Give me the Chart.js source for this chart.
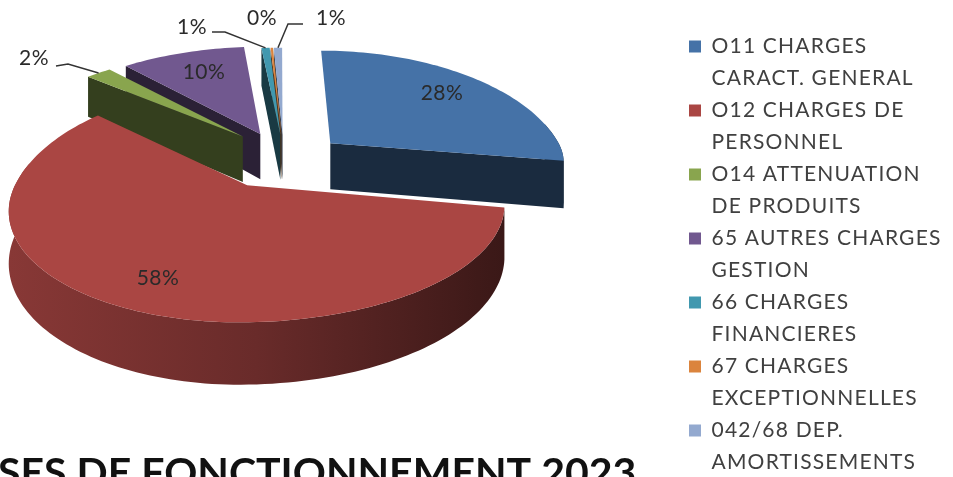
<!DOCTYPE html>
<html>
<head>
<meta charset="utf-8">
<title>Dépenses de fonctionnement 2023</title>
<script src="https://cdn.jsdelivr.net/npm/chart.js@4"></script>
<style>
  html, body { margin: 0; background: #fff; overflow: hidden; }
  canvas { display: block; filter: blur(0.6px); }
</style>
</head>
<body>
<canvas id="graphique" width="953" height="477"></canvas>
<script>
const categories = [
    ['O11 CHARGES', 'CARACT. GENERAL'],
    ['O12 CHARGES DE', 'PERSONNEL'],
    ['O14 ATTENUATION', 'DE PRODUITS'],
    ['65 AUTRES CHARGES', 'GESTION'],
    ['66 CHARGES', 'FINANCIERES'],
    ['67 CHARGES', 'EXCEPTIONNELLES'],
    ['042/68 DEP.', 'AMORTISSEMENTS']
];
const valeurs = [28, 58, 2, 10, 0.7, 0.2, 0.7];
const couleurs = ['#4572A7', '#AA4643', '#89A54E', '#71588F', '#4198AF', '#DB843D', '#93A9CF'];
const titre = 'SES DE FONCTIONNEMENT 2023';

// reglages de la vue 3D (pas des donnees)
const vue = { cx: 280, cy: 153, rx: 235, ry: 113, k: 0.218, prof: 47 };
const eclatement = [0.25, 0.3, 0.215, 0.19, 0.17, 0.17, 0.17];
// petite correction de chaque part: decalage et etirement (gauche, droite, arriere, avant)
const retouche = [
    { ex: 0.025, ey: 0.07, g: 1, d: 0.99, h: 1.04, b: 0.8 },
    { ex: 0, ey: 0, g: 0.93, d: 1.015, h: 0.96, b: 0.86 },
    { ex: -0.01, ey: 0, g: 1.05, d: 1, h: 0.98, b: 1 },
    { ex: -0.01, ey: 0, g: 1.05, d: 1.02, h: 1.01, b: 1 },
    { ex: 0.015, ey: 0, g: 1, d: 1, h: 1, b: 1 },
    { ex: 0.015, ey: 0, g: 1, d: 1, h: 1, b: 1 },
    { ex: 0.015, ey: 0, g: 1, d: 1, h: 1, b: 1 }
];
// place des etiquettes, avec le trait de rappel quand il y en a un
const etiquettes = [
    { x: 442, y: 93 },
    { x: 158, y: 278 },
    { x: 34, y: 58, trait: [[56, 66], [68, 64]] },
    { x: 204, y: 72 },
    { x: 192, y: 27, trait: [[212, 32], [225, 32]] },
    { x: 262, y: 18 },
    { x: 331, y: 18, trait: [[303, 24], [288, 24]] }
];

function projeter(X, Y, z) {
    const w = 1 - vue.k * Y;
    return [vue.cx + vue.rx * X / w, vue.cy + (vue.ry * Y + z * vue.prof) / w];
}

function assombrir(hex, f) {
    const n = parseInt(hex.slice(1), 16);
    const r = Math.round((n >> 16) * f), g = Math.round(((n >> 8) & 255) * f), b = Math.round((n & 255) * f);
    return `rgb(${r}, ${g}, ${b})`;
}

function remplir(ctx, pts, style) {
    ctx.beginPath();
    pts.forEach((p, i) => i ? ctx.lineTo(p[0], p[1]) : ctx.moveTo(p[0], p[1]));
    ctx.closePath();
    ctx.fillStyle = style;
    ctx.fill();
}

const camembert3d = {
    id: 'camembert3d',
    afterLayout(chart) {
        // la legende reste a sa place a droite
        const h = chart.legend.bottom - chart.legend.top;
        chart.legend.left = 689;
        chart.legend.right = 953;
        chart.legend.top = 36;
        chart.legend.bottom = 36 + h;
    },
    beforeDraw(chart) {
        chart.ctx.letterSpacing = '1.2px';
    },
    beforeDatasetsDraw(chart) {
        const ctx = chart.ctx;
        const arcs = chart.getDatasetMeta(0).data;
        const milieu = i => (arcs[i].startAngle + arcs[i].endAngle) / 2;
        const ordre = arcs.map((_, i) => i).sort((a, b) => Math.sin(milieu(a)) - Math.sin(milieu(b)));
        const total = valeurs.reduce((a, b) => a + b, 0);
        const decalage = i => [
            eclatement[i] * Math.cos(milieu(i)) + retouche[i].ex,
            eclatement[i] * Math.sin(milieu(i)) + retouche[i].ey
        ];
        const surBord = (i, a) => {
            const r = retouche[i];
            const [ox, oy] = decalage(i);
            const cx = Math.cos(a), sy = Math.sin(a);
            return [ox + (cx < 0 ? r.g : r.d) * cx, oy + (sy < 0 ? r.h : r.b) * sy];
        };

        ordre.forEach(i => {
            const arc = arcs[i];
            const [ox, oy] = decalage(i);
            const angles = [];
            const n = Math.max(4, Math.ceil((arc.endAngle - arc.startAngle) * 40));
            for (let j = 0; j <= n; j++) {
                angles.push(arc.startAngle + (arc.endAngle - arc.startAngle) * j / n);
            }
            const haut = angles.map(a => { const p = surBord(i, a); return projeter(p[0], p[1], 0); });
            const bas = angles.map(a => { const p = surBord(i, a); return projeter(p[0], p[1], 1); });
            const centreH = projeter(ox, oy, 0);
            const centreB = projeter(ox, oy, 1);
            const c = couleurs[i];

            // paroi exterieure, plus claire a gauche (l'arriere ne se voit pas)
            const devant = angles.map((a, j) => j).filter(j => Math.sin(angles[j]) > -0.2);
            if (devant.length > 1) {
                const xs = haut.map(p => p[0]);
                const deg = ctx.createLinearGradient(Math.min(...xs), 0, Math.max(...xs), 0);
                deg.addColorStop(0, assombrir(c, 0.8));
                deg.addColorStop(0.5, assombrir(c, 0.62));
                deg.addColorStop(1, assombrir(c, 0.34));
                remplir(ctx, devant.map(j => haut[j]).concat(devant.slice().reverse().map(j => bas[j])), deg);
            }

            // parois radiales, seulement celles tournees vers nous
            const sombre = assombrir(c, 0.38);
            if (Math.cos(arc.startAngle) < 0) {
                remplir(ctx, [centreH, haut[0], bas[0], centreB], sombre);
            }
            if (Math.cos(arc.endAngle) > 0) {
                remplir(ctx, [centreH, haut[n], bas[n], centreB], sombre);
            }

            // dessus
            remplir(ctx, [centreH].concat(haut), c);
        });

        // etiquettes
        ctx.letterSpacing = '0.5px';
        ctx.font = '21px Lato';
        ctx.fillStyle = '#2a2a2a';
        ctx.textAlign = 'center';
        ctx.textBaseline = 'middle';
        etiquettes.forEach((e, i) => {
            ctx.fillText(Math.round(valeurs[i] / total * 100) + '%', e.x, e.y);
            if (e.trait) {
                const fin = surBord(i, milieu(i));
                const p = projeter(fin[0], fin[1], 0);
                ctx.beginPath();
                ctx.moveTo(e.trait[0][0], e.trait[0][1]);
                ctx.lineTo(e.trait[1][0], e.trait[1][1]);
                ctx.lineTo(p[0], p[1]);
                ctx.strokeStyle = '#333';
                ctx.lineWidth = 1.5;
                ctx.stroke();
            }
        });

        // titre, coupe par le bas de l'image comme sur l'original
        ctx.letterSpacing = '0px';
        ctx.font = 'bold 41px Lato';
        ctx.fillStyle = '#111';
        ctx.textAlign = 'left';
        ctx.textBaseline = 'alphabetic';
        ctx.fillText(titre, -2, 487);
        return false;
    }
};

new Chart(document.getElementById('graphique'), {
    type: 'pie',
    data: {
        labels: categories,
        datasets: [{ data: valeurs, backgroundColor: couleurs, borderWidth: 0 }]
    },
    options: {
        responsive: false,
        animation: false,
        layout: { padding: { right: 12 } },
        plugins: {
            tooltip: { enabled: false },
            legend: {
                position: 'right',
                align: 'start',
                labels: {
                    boxWidth: 12,
                    boxHeight: 12,
                    padding: 0,
                    color: '#404040',
                    font: { family: 'Lato', size: 21, lineHeight: 32 / 21 }
                }
            }
        }
    },
    plugins: [camembert3d]
});
</script>
</body>
</html>
